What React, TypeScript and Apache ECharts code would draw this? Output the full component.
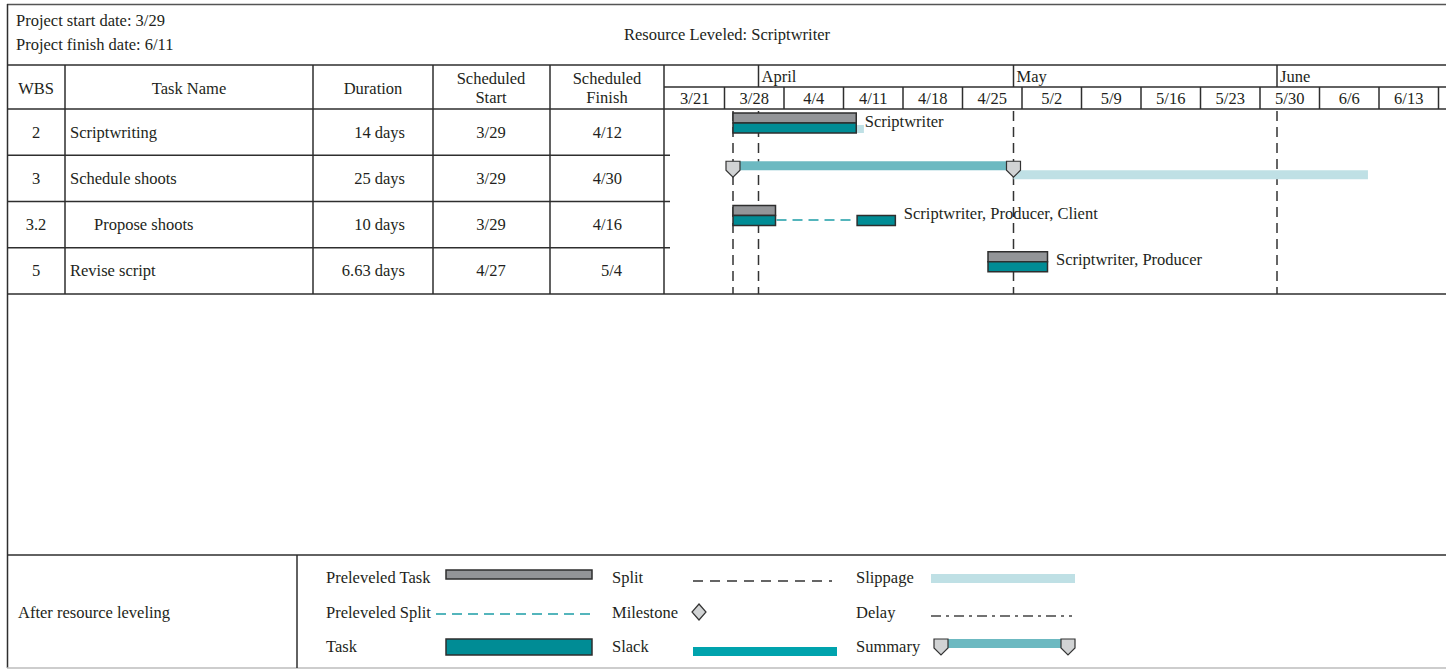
import React, { useEffect, useRef } from "react";
import * as echarts from "echarts";

// ---------- data ----------
const projectStartLabel = "Project start date: 3/29";
const projectFinishLabel = "Project finish date: 6/11";
const chartTitle = "Resource Leveled: Scriptwriter";
const footerLabel = "After resource leveling";

const wbs = ["2", "3", "3.2", "5"];
const taskNames = ["Scriptwriting", "Schedule shoots", "Propose shoots", "Revise script"];
const outlineLevel = [0, 0, 1, 0];
const durations = ["14 days", "25 days", "10 days", "6.63 days"];
const schedStart = ["3/29", "3/29", "3/29", "4/27"];
const schedFinish = ["4/12", "4/30", "4/16", "5/4"];

// timeline values are days since 3/21
const weekLabels = ["3/21", "3/28", "4/4", "4/11", "4/18", "4/25", "5/2", "5/9", "5/16", "5/23", "5/30", "6/6", "6/13", ""];
const weekStartDays = [0, 7, 14, 21, 28, 35, 42, 49, 56, 63, 70, 77, 84, 91];
const monthLabels = ["April", "May", "June"];
const monthStartDays = [11, 41, 72];
const dashedGuideDays = [8, 11, 41, 72];

// [row, start, end]
const preleveledTasks = [
  [0, 8, 22.5],
  [2, 8, 13],
  [3, 38, 45],
];
const tasks = [
  [0, 8, 22.5],
  [2, 8, 13],
  [2, 22.6, 27.1],
  [3, 38, 45],
];
const preleveledSplits = [[2, 13, 22.6]];
const summaries = [[1, 8, 41]];
const slippages = [
  [0, 22.5, 23.4],
  [1, 41, 82.7],
];
// [row, day, text]
const resourceLabels: [number, number, string][] = [
  [0, 22.5, "Scriptwriter"],
  [2, 27.1, "Scriptwriter, Producer, Client"],
  [3, 45, "Scriptwriter, Producer"],
];

// ---------- styles ----------
const FONT = "'Liberation Serif', 'DejaVu Serif', serif";
const FS = 16.5;
const INK = "#231f20";
const LINE = "#2e2e2e";
const GREY = "#939598";
const TEAL = "#008c95";
const SUMMARY = "#6cb9c1";
const SLIP = "#bfe0e5";
const SLACK = "#00a3ad";
const CAP = "#d1d3d4";
const SPLIT_TEAL = "#1c9da7";

const GRID_LEFT = 665;
const DAY_PX = 8.5;
const X_MAX = (1446 - GRID_LEFT) / DAY_PX;
const TABLE_TOP = 109;
const TABLE_BOTTOM = 294;

function L(x1: number, y1: number, x2: number, y2: number, stroke = LINE, w = 1.5, dash?: number[]) {
  return {
    type: "line",
    silent: true,
    shape: { x1, y1, x2, y2 },
    style: { stroke, lineWidth: w, lineDash: dash },
  };
}
function T(text: string, x: number, y: number, align = "left", size = FS) {
  return {
    type: "text",
    silent: true,
    x,
    y,
    style: { text, fill: INK, font: `${size}px ${FONT}`, align, verticalAlign: "middle" },
  };
}
function R(x: number, y: number, w: number, h: number, fill: string, stroke?: string) {
  return {
    type: "rect",
    silent: true,
    shape: { x, y, width: w, height: h },
    style: { fill, stroke: stroke || null, lineWidth: stroke ? 1.5 : 0 },
  };
}
function capPoints(cx: number, top: number) {
  return [
    [cx - 7, top],
    [cx + 7, top],
    [cx + 7, top + 9],
    [cx, top + 16],
    [cx - 7, top + 9],
  ];
}

function buildGraphic() {
  const g: any[] = [];
  const rowH = (TABLE_BOTTOM - TABLE_TOP) / taskNames.length;
  // frame
  g.push(L(7, 4.5, 1446, 4.5, "#555", 1.5));
  g.push(L(7.5, 4, 7.5, 668, LINE, 1.5));
  g.push(L(7, 65, 1446, 65));
  g.push(L(664, 87, 1446, 87));
  g.push(L(7, TABLE_TOP, 1446, TABLE_TOP));
  for (let i = 1; i < taskNames.length; i++) {
    const y = TABLE_TOP + i * rowH;
    g.push(L(7, y, 670, y));
  }
  g.push(L(7, TABLE_BOTTOM, 1446, TABLE_BOTTOM));
  g.push(L(7, 555, 1446, 555));
  g.push(L(7, 668, 1446, 668, "#bdbdbd", 1.5));
  [65, 313, 433, 550, 664].forEach((x) => g.push(L(x, 65, x, TABLE_BOTTOM)));
  g.push(L(297, 555, 297, 668));

  // header texts
  g.push(T(projectStartLabel, 16, 20));
  g.push(T(projectFinishLabel, 16, 44));
  g.push(T(chartTitle, 727, 34, "center"));
  g.push(T("WBS", 36, 88, "center"));
  g.push(T("Task Name", 189, 88, "center"));
  g.push(T("Duration", 373, 88, "center"));
  g.push(T("Scheduled", 491, 78, "center"));
  g.push(T("Start", 491, 97, "center"));
  g.push(T("Scheduled", 607, 78, "center"));
  g.push(T("Finish", 607, 97, "center"));

  // rows
  taskNames.forEach((name, i) => {
    const y = TABLE_TOP + i * rowH + 23;
    g.push(T(wbs[i], 36, y, "center"));
    g.push(T(name, 70 + outlineLevel[i] * 24, y));
    g.push(T(durations[i], 405, y, "right"));
    g.push(T(schedStart[i], 491, y, "center"));
    g.push(T(schedFinish[i], 622, y, "right"));
  });

  // legend
  g.push(T(footerLabel, 18, 612));
  g.push(T("Preleveled Task", 326, 577));
  g.push(R(446, 570, 146, 9, GREY, LINE));
  g.push(T("Preleveled Split", 326, 612));
  g.push(L(436, 614, 590, 614, SPLIT_TEAL, 1.5, [10, 6]));
  g.push(T("Task", 326, 646));
  g.push(R(446, 639, 146, 16, TEAL, LINE));

  g.push(T("Split", 612, 577));
  g.push(L(693, 581, 832, 581, "#333", 1.5, [10, 7]));
  g.push(T("Milestone", 612, 612));
  g.push({
    type: "polygon",
    silent: true,
    shape: { points: [[699, 604], [706, 612], [699, 620], [692, 612]] },
    style: { fill: CAP, stroke: "#333", lineWidth: 1.2 },
  });
  g.push(T("Slack", 612, 646));
  g.push(R(693, 647, 144, 9, SLACK));

  g.push(T("Slippage", 856, 577));
  g.push(R(931, 574, 144, 9, SLIP));
  g.push(T("Delay", 856, 612));
  g.push(L(931, 616, 1072, 616, "#444", 1.5, [10, 5, 3, 5]));
  g.push(T("Summary", 856, 646));
  g.push(R(941, 639, 127, 9, SUMMARY));
  [941, 1068].forEach((cx) =>
    g.push({
      type: "polygon",
      silent: true,
      shape: { points: capPoints(cx, 639) },
      style: { fill: CAP, stroke: "#333", lineWidth: 1.2 },
    })
  );
  return g;
}

function bandTop(api: any, row: number) {
  const c = api.coord([0, row]);
  const h = api.size([0, 1])[1];
  return c[1] - h / 2;
}

export default function App() {
  const ref = useRef<HTMLDivElement>(null);
  useEffect(() => {
    if (!ref.current) return;
    const chart = echarts.init(ref.current, undefined, { renderer: "svg" });

    const barSeries = (name: string, data: number[][], top: number, h: number, fill: string, stroke?: string) => ({
      type: "custom",
      name,
      xAxisIndex: 0,
      yAxisIndex: 0,
      data,
      encode: { x: [1, 2], y: 0 },
      renderItem: (params: any, api: any) => {
        const row = api.value(0);
        const x0 = api.coord([api.value(1), row])[0];
        const x1 = api.coord([api.value(2), row])[0];
        const yt = bandTop(api, row);
        return {
          type: "rect",
          shape: { x: x0, y: yt + top, width: x1 - x0, height: h },
          style: { fill, stroke: stroke || null, lineWidth: stroke ? 1.5 : 0 },
        };
      },
    });

    chart.setOption({
      animation: false,
      grid: [
        { left: GRID_LEFT, top: TABLE_TOP, width: 1446 - GRID_LEFT, height: TABLE_BOTTOM - TABLE_TOP },
        { left: GRID_LEFT, top: 65, width: 1446 - GRID_LEFT, height: TABLE_TOP - 65 },
      ],
      xAxis: [
        { type: "value", min: 0, max: X_MAX, show: false, gridIndex: 0 },
        { type: "value", min: 0, max: X_MAX, show: false, gridIndex: 1 },
      ],
      yAxis: [
        { type: "category", data: taskNames, inverse: true, show: false, gridIndex: 0 },
        { type: "value", min: 0, max: 1, show: false, gridIndex: 1 },
      ],
      graphic: buildGraphic(),
      series: [
        // header: weeks
        {
          type: "custom",
          xAxisIndex: 1,
          yAxisIndex: 1,
          data: weekStartDays.map((d, i) => [d, i]),
          renderItem: (params: any, api: any) => {
            const d = api.value(0);
            const i = api.value(1);
            const x = api.coord([d, 0])[0];
            const w = api.size([7, 0])[0];
            const children: any[] = [];
            if (d > 0) children.push({ type: "line", shape: { x1: x, y1: 87, x2: x, y2: 109 }, style: { stroke: LINE, lineWidth: 1.5 } });
            children.push({
              type: "text",
              x: x + w / 2,
              y: 98,
              style: { text: weekLabels[i], fill: INK, font: `${FS}px ${FONT}`, align: "center", verticalAlign: "middle" },
            });
            return { type: "group", children };
          },
        },
        // header: months
        {
          type: "custom",
          xAxisIndex: 1,
          yAxisIndex: 1,
          data: monthStartDays.map((d, i) => [d, i]),
          renderItem: (params: any, api: any) => {
            const x = api.coord([api.value(0), 0])[0];
            return {
              type: "group",
              children: [
                { type: "line", shape: { x1: x, y1: 65, x2: x, y2: 87 }, style: { stroke: LINE, lineWidth: 1.5 } },
                {
                  type: "text",
                  x: x + 3,
                  y: 76,
                  style: { text: monthLabels[api.value(1)], fill: INK, font: `${FS}px ${FONT}`, align: "left", verticalAlign: "middle" },
                },
              ],
            };
          },
        },
        // dashed guides
        {
          type: "custom",
          xAxisIndex: 0,
          yAxisIndex: 0,
          data: dashedGuideDays.map((d) => [d]),
          encode: { x: 0 },
          renderItem: (params: any, api: any) => {
            const x = api.coord([api.value(0), 0])[0];
            return {
              type: "line",
              shape: { x1: x, y1: TABLE_TOP + 2, x2: x, y2: TABLE_BOTTOM },
              style: { stroke: "#333", lineWidth: 1.5, lineDash: [10, 6] },
            };
          },
        },
        barSeries("Slippage", slippages.filter((s) => s[0] !== 1), 16, 8, SLIP),
        barSeries("Slippage summary", slippages.filter((s) => s[0] === 1), 15, 9, SLIP),
        // summary with caps
        {
          type: "custom",
          name: "Summary",
          xAxisIndex: 0,
          yAxisIndex: 0,
          data: summaries,
          encode: { x: [1, 2], y: 0 },
          renderItem: (params: any, api: any) => {
            const row = api.value(0);
            const x0 = api.coord([api.value(1), row])[0];
            const x1 = api.coord([api.value(2), row])[0];
            const yt = bandTop(api, row);
            return {
              type: "group",
              children: [
                { type: "rect", shape: { x: x0, y: yt + 6, width: x1 - x0, height: 9 }, style: { fill: SUMMARY } },
                { type: "polygon", shape: { points: capPoints(x0, yt + 6) }, style: { fill: CAP, stroke: "#333", lineWidth: 1.2 } },
                { type: "polygon", shape: { points: capPoints(x1, yt + 6) }, style: { fill: CAP, stroke: "#333", lineWidth: 1.2 } },
              ],
            };
          },
        },
        barSeries("Preleveled Task", preleveledTasks, 4, 10, GREY, LINE),
        barSeries("Task", tasks, 14, 10, TEAL, LINE),
        // preleveled split
        {
          type: "custom",
          name: "Preleveled Split",
          xAxisIndex: 0,
          yAxisIndex: 0,
          data: preleveledSplits,
          encode: { x: [1, 2], y: 0 },
          renderItem: (params: any, api: any) => {
            const row = api.value(0);
            const x0 = api.coord([api.value(1), row])[0];
            const x1 = api.coord([api.value(2), row])[0];
            const yt = bandTop(api, row);
            return {
              type: "line",
              shape: { x1: x0 + 1, y1: yt + 18.5, x2: x1 - 1, y2: yt + 18.5 },
              style: { stroke: SPLIT_TEAL, lineWidth: 1.5, lineDash: [10, 6] },
            };
          },
        },
        // resource labels
        {
          type: "custom",
          name: "Resources",
          xAxisIndex: 0,
          yAxisIndex: 0,
          data: resourceLabels.map((r) => [r[0], r[1], r[2]]),
          encode: { x: 1, y: 0 },
          renderItem: (params: any, api: any) => {
            const row = api.value(0);
            const x = api.coord([api.value(1), row])[0];
            const yt = bandTop(api, row);
            return {
              type: "text",
              x: x + 8.5,
              y: yt + 12,
              style: {
                text: resourceLabels[params.dataIndex][2],
                fill: INK,
                font: `${FS}px ${FONT}`,
                align: "left",
                verticalAlign: "middle",
              },
            };
          },
        },
      ],
    });
    return () => chart.dispose();
  }, []);

  return (
    <div
      ref={ref}
      style={{ position: "fixed", left: 0, top: 0, width: 1446, height: 670, background: "#fff" }}
    />
  );
}
